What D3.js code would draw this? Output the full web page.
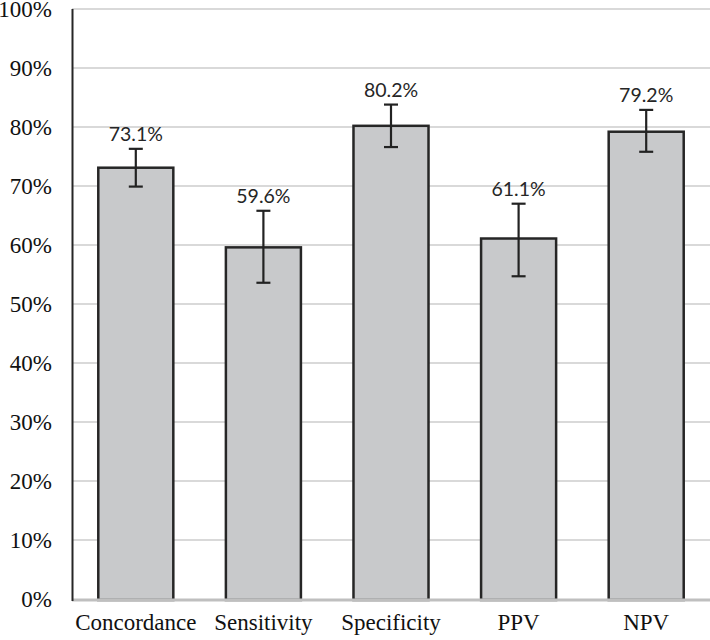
<!DOCTYPE html>
<html>
<head>
<meta charset="utf-8">
<script src="https://cdn.jsdelivr.net/npm/d3@7"></script>
<style>
html,body{margin:0;padding:0;background:#fff;}
svg{display:block;}
</style>
</head>
<body>
<svg id="chart" width="710" height="640"></svg>
<script>
const categories = ["Concordance", "Sensitivity", "Specificity", "PPV", "NPV"];
const values = [0.731, 0.596, 0.802, 0.611, 0.792];
const errLow = [0.699, 0.536, 0.766, 0.547, 0.758];
const errHigh = [0.763, 0.658, 0.838, 0.670, 0.829];
const labels = ["73.1%", "59.6%", "80.2%", "61.1%", "79.2%"];
const yTicks = [0, 0.1, 0.2, 0.3, 0.4, 0.5, 0.6, 0.7, 0.8, 0.9, 1.0];

(function () {
const svg = d3.select("#chart");
const mLeft = 72, mRight = 710, mTop = 9, mBottom = 599;

const x = d3.scaleBand().domain(categories).range([mLeft, mRight]).paddingInner(0.412).paddingOuter(0.206);
const y = d3.scaleLinear().domain([0, 1]).range([mBottom, mTop]);

// gridlines
svg.append("g").selectAll("line").data(yTicks.filter(d => d > 0)).join("line")
  .attr("x1", mLeft).attr("x2", mRight)
  .attr("y1", d => y(d)).attr("y2", d => y(d))
  .attr("stroke", "#d9d9d9").attr("stroke-width", 2);

// y tick labels
const yAxis = d3.axisLeft(y).tickValues(yTicks).tickFormat(d3.format(".0%")).tickSize(0).tickPadding(20);
const gy = svg.append("g").attr("transform", `translate(${mLeft},0)`).call(yAxis);
gy.select(".domain").remove();
gy.selectAll("text")
  .attr("font-family", "'Liberation Serif', 'Times New Roman', serif")
  .attr("font-size", 23).attr("fill", "#111");

// bars
const data = categories.map((c, i) => ({c, v: values[i], lo: errLow[i], hi: errHigh[i], label: labels[i]}));
svg.append("g").selectAll("rect").data(data).join("rect")
  .attr("x", d => x(d.c)).attr("width", x.bandwidth())
  .attr("y", d => y(d.v)).attr("height", d => y(0) - y(d.v) + 1)
  .attr("fill", "#c8c9cb").attr("stroke", "#262626").attr("stroke-width", 2.5);

// bottom axis line
svg.append("line").attr("x1", mLeft).attr("x2", mRight).attr("y1", y(0) + 1).attr("y2", y(0) + 1)
  .attr("stroke", "#bfbfbf").attr("stroke-width", 3);

// y axis line
svg.append("line").attr("x1", mLeft + 0.5).attr("x2", mLeft + 0.5).attr("y1", mTop).attr("y2", y(0) + 2)
  .attr("stroke", "#262626").attr("stroke-width", 2);

// error bars
const eb = svg.append("g").selectAll("g").data(data).join("g")
  .attr("stroke", "#222").attr("stroke-width", 2.2);
const cx = d => x(d.c) + x.bandwidth() / 2;
eb.append("line").attr("x1", cx).attr("x2", cx).attr("y1", d => y(d.hi)).attr("y2", d => y(d.lo));
eb.append("line").attr("x1", d => cx(d) - 7).attr("x2", d => cx(d) + 7).attr("y1", d => y(d.hi)).attr("y2", d => y(d.hi));
eb.append("line").attr("x1", d => cx(d) - 7).attr("x2", d => cx(d) + 7).attr("y1", d => y(d.lo)).attr("y2", d => y(d.lo));

// value labels
svg.append("g").selectAll("text").data(data).join("text")
  .attr("x", cx).attr("y", d => y(d.hi) - 8)
  .attr("text-anchor", "middle")
  .attr("font-family", "Lato, 'Liberation Sans', sans-serif")
  .attr("font-size", 19.5).attr("fill", "#262626")
  .text(d => d.label);

// x category labels
const xAxis = d3.axisBottom(x).tickSize(0).tickPadding(0);
const gx = svg.append("g").attr("transform", `translate(0,${y(0)})`).call(xAxis);
gx.select(".domain").remove();
gx.selectAll("text")
  .attr("dy", null).attr("y", 31)
  .attr("font-family", "'Liberation Serif', 'Times New Roman', serif")
  .attr("font-size", 23).attr("fill", "#111");
})();
</script>
</body>
</html>
